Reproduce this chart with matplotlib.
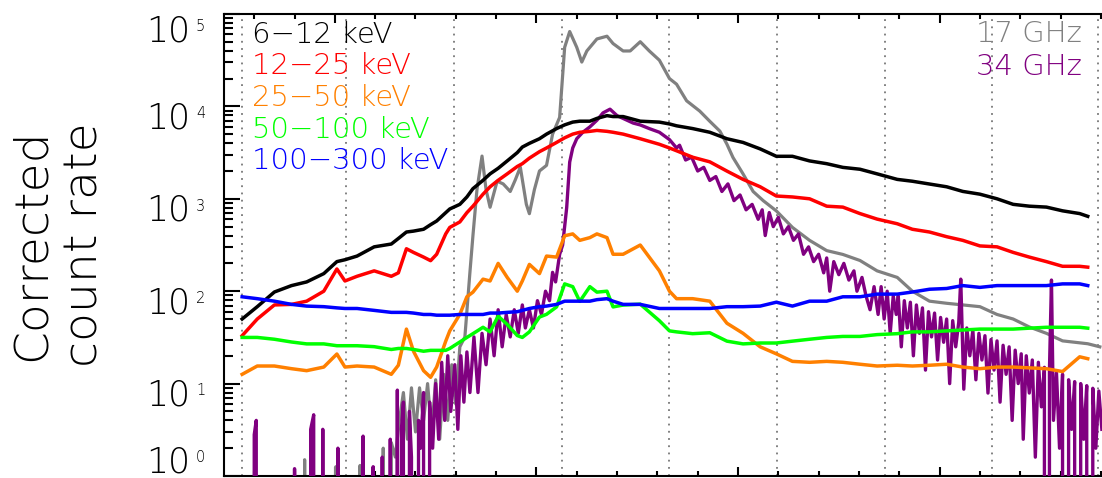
import numpy as np
import matplotlib
matplotlib.use("Agg")
import matplotlib.pyplot as plt
from matplotlib.ticker import FixedLocator, LogLocator, NullFormatter
from matplotlib.transforms import blended_transform_factory

# time in seconds (arbitrary origin), HXR bands share one time base
t_hxr = [208, 223, 240, 257, 272, 289, 302, 310, 322, 339, 356, 363, 371, 378, 388, 395,
         401, 410, 414, 424, 431, 437, 447, 454, 462, 471, 481, 486, 493, 503, 510, 520,
         528, 536, 543, 553, 560, 570, 576, 586, 603, 622, 632, 639, 655, 672, 689, 705,
         722, 738, 754, 771, 788, 804, 821, 838, 858, 873, 890, 907, 923, 940, 957, 973,
         989, 1006, 1022, 1039, 1047]

c_6_12 = [50, 68, 98, 115, 126, 155, 209, 219, 240, 302, 324, 372, 437, 447, 468, 525,
          575, 708, 776, 871, 1047, 1288, 1585, 1862, 2138, 2570, 3162, 3631, 3981, 4467, 5012, 5754,
          6310, 6761, 6918, 6918, 7413, 7943, 7762, 7762, 6918, 6761, 6457, 6166, 5754, 5248, 4467, 4074,
          3467, 2884, 2884, 2570, 2399, 2188, 2089, 1862, 1622, 1549, 1445, 1349, 1202, 1122, 1000, 871,
          832, 813, 741, 692, 646]
c_12_25 = [33, 50, 71, 72, 78, 100, 174, 129, 145, 166, 145, 158, 288, 263, 234, 214,
           251, 417, 490, 562, 708, 832, 1122, 1349, 1585, 1862, 2239, 2399, 2754, 3236, 3548, 4074,
           4571, 5012, 5248, 5370, 5495, 5370, 5248, 5012, 4467, 3890, 3548, 3311, 2818, 2512, 1995, 1622,
           1349, 1072, 1047, 1000, 832, 813, 692, 603, 537, 468, 437, 389, 355, 309, 302, 263,
           234, 209, 186, 186, 182]
c_25_50 = [12.6, 15.5, 15.5, 14.5, 13.8, 15.1, 20.9, 15.1, 15.5, 15.1, 12.6, 15.8, 38.9, 22.4, 13.8, 11.7,
           15.1, 28.8, 37.2, 56.2, 87.1, 97.7, 135, 129, 200, 141, 100, 129, 195, 155, 240, 234,
           398, 417, 355, 380, 417, 380, 251, 251, 316, 166, 100, 83, 83, 78, 45, 35,
           25, 21, 17.4, 17, 17.4, 17, 16.2, 15.5, 15.8, 15.5, 15.8, 16.2, 15.1, 14.5, 15.1, 15.1,
           14.8, 14.5, 13.5, 19.5, 18.6]
c_50_100 = [31.6, 31.6, 30.2, 28.2, 26.9, 26.9, 25.7, 25.7, 25.7, 25.1, 23.4, 24.0, 24.0, 23.4, 22.4, 22.9,
            22.9, 22.9, 24.0, 28.2, 31.6, 34.7, 40.7, 36.3, 53.7, 43.7, 33.1, 31.6, 36.3, 52.5, 56.2, 67.6,
            120, 112, 77.6, 112, 97.7, 100, 67.6, 70.8, 72.4, 47.9, 37.2, 36.3, 34.7, 35.5, 28.8, 26.9,
            27.5, 27.5, 28.8, 30.2, 31.6, 32.4, 32.4, 33.9, 34.7, 36.3, 36.3, 37.2, 38.0, 38.9, 38.9, 38.9,
            39.8, 40.7, 40.7, 40.7, 39.8]
c_100_300 = [87, 83, 78, 72, 69, 68, 66, 65, 65, 62, 59, 59, 59, 58, 56, 56,
             55, 55, 55, 56, 56, 56, 56, 58, 58, 59, 60, 62, 65, 68, 69, 72,
             78, 78, 78, 78, 81, 83, 78, 72, 72, 65, 65, 65, 65, 65, 68, 68,
             69, 76, 69, 78, 78, 87, 87, 93, 93, 98, 105, 107, 115, 110, 115, 115,
             115, 115, 120, 120, 115]

# radio fluxes (0 = below the plot floor)
t_17 = [208, 265, 270, 274, 298, 301, 304, 322, 325, 328, 346, 348, 351, 356, 360, 364,
        368, 372, 376, 380, 384, 388, 392, 396, 400, 404, 408, 412, 416, 420, 424, 429,
        434, 437, 441, 446, 450, 454, 461, 467, 474, 479, 484, 490, 493, 498, 503, 510,
        516, 523, 528, 533, 540, 545, 550, 560, 570, 576, 586, 593, 603, 612, 622, 632,
        639, 649, 662, 672, 682, 689, 695, 705, 715, 725, 738, 754, 771, 788, 804, 821,
        838, 858, 873, 890, 907, 940, 957, 973, 989, 1006, 1022, 1047, 1059]
f_17 = [0, 0, 1.5, 0, 0, 1.26, 0, 0, 1.3, 0, 0, 2.0, 0, 2.3, 1.6, 4.0,
        8, 2.5, 9, 3, 9, 4, 10, 3, 11, 2.5, 12.6, 4, 16, 6, 25, 32,
        160, 400, 1260, 2900, 1260, 810, 1550, 1450, 1200, 1600, 2200, 870, 690, 1260, 2000, 2300,
        5000, 7600, 43600, 64600, 43600, 30200, 39800, 53700, 57500, 47900, 39800, 39800, 50100, 39800, 31600, 20000,
        17400, 11500, 8900, 6900, 5400, 3900, 2800, 1860, 1200, 955, 740, 490, 355, 275, 250, 215,
        166, 141, 100, 78, 74, 68, 56, 50, 41, 35, 29, 27, 25]

t_34 = [208, 219, 220, 222, 224, 259, 260, 262, 274, 276, 279, 281, 287, 288, 290, 302,
        303, 305, 327, 328, 330, 337, 338, 340, 345, 347, 350, 354, 355, 357, 361, 362,
        363, 366, 368, 370, 374, 376, 379, 383, 385, 388, 391, 394, 397, 400, 403, 406,
        409, 412, 415, 419, 422, 425, 428, 431, 434, 438, 442, 446, 450, 454, 458, 462,
        466, 470, 474, 478, 482, 486, 489, 493, 497, 501, 505, 509, 513, 516, 519, 523,
        526, 530, 533, 536, 540, 546, 553, 560, 566, 573, 580, 588, 596, 603, 612, 622,
        632, 639, 642, 648, 654, 660, 666, 672, 678, 684, 690, 696, 702, 708, 714, 720,
        724, 727, 731, 735, 740, 745, 750, 755, 760, 765, 770, 775, 780, 785, 788, 791,
        795, 800, 805, 810, 815, 818, 823, 827, 831, 835, 839,
        842, 845, 848, 851, 854, 857, 859, 862, 865, 868, 871, 874, 877, 880, 883, 886,
        889, 892, 895, 898, 901, 904, 907, 910, 913, 916, 919, 921, 924, 927, 930, 933,
        936, 939, 942, 945, 948, 951, 954, 957, 960, 963, 966, 969, 972, 975, 978, 981,
        983, 986, 989, 992, 995, 998, 1001, 1004, 1007, 1009, 1011, 1013, 1016, 1019, 1022, 1025,
        1028, 1031, 1034, 1037, 1040, 1043, 1046, 1049, 1052, 1055, 1058, 1061]
f_34 = [0, 0, 2.8, 4.0, 0, 0, 1.2, 0, 0, 3.2, 4.6, 0, 0, 3.2, 0, 0,
        2.0, 0, 0, 2.7, 0, 0, 1.26, 0, 0, 1.6, 0, 0, 2.5, 0, 0, 8.5,
        0, 3.2, 6.3, 0, 5, 1.6, 0, 4, 2, 8, 0, 6.3, 2, 10, 2.5, 17,
        4, 20, 5, 16, 3.2, 20, 6.3, 22, 8, 32, 8, 35, 16, 50, 20, 63,
        25, 56, 32, 63, 35, 71, 40, 63, 40, 79, 56, 100, 79, 160, 126, 250,
        316, 800, 2500, 3550, 4470, 5250, 6000, 7080, 8500, 9330, 7940, 7240, 6600, 6300, 5750, 5250,
        4370, 3550, 3800, 2630, 2820, 2000, 2190, 1580, 1740, 1200, 1450, 955, 1100, 760, 870, 600,
        760, 400, 710, 500, 630, 417, 500, 355, 417, 251, 302, 209, 251, 158, 229, 100,
        209, 151, 200, 132, 166, 100, 141, 89, 63, 112, 56,
        112, 50, 100, 35, 89, 56, 89, 25, 79, 40, 76, 20, 71, 35, 66, 14,
        60, 32, 58, 18, 52, 28, 50, 10, 48, 25, 46, 135, 8.7, 40, 20, 38,
        11, 35, 18, 33, 7.9, 30, 14, 29, 6.3, 26, 12.6, 25, 4, 23, 10, 21,
        2.5, 20, 7.9, 18, 1.6, 17, 5.6, 15, 0, 14, 132, 4, 13, 2, 12.6, 0,
        11, 3.2, 10.5, 0, 10, 2.5, 9.5, 0, 8.9, 2, 8.3, 3.2]

band_labels = ["6\u221212 keV", "12\u221225 keV", "25\u221250 keV", "50\u2212100 keV", "100\u2212300 keV"]
band_colors = ["black", "#ff0000", "#ff8000", "#00ff00", "#0000ff"]
radio_labels = ["17 GHz", "34 GHz"]
radio_colors = ["#808080", "#800080"]
marker_times = [208, 311, 418, 525, 632, 739, 846, 952, 1057]
decades = [0, 1, 2, 3, 4, 5]

plt.rcParams['font.family'] = ['DejaVu Sans']
plt.rcParams['font.weight'] = 200

fig = plt.figure(figsize=(11.02, 4.78), dpi=100)
ax = fig.add_axes([224/1102, 2/478, 896/1102, 462/478])

for tm in marker_times:
    ax.axvline(tm, color='#777777', ls=(0, (1, 3)), lw=1.3, zorder=1)

ax.plot(t_17, f_17, color=radio_colors[0], lw=2.3, zorder=2)
ax.plot(t_34, f_34, color=radio_colors[1], lw=2.4, zorder=3)
for c, col in zip([c_6_12, c_12_25, c_25_50, c_50_100, c_100_300], band_colors):
    ax.plot(t_hxr, c, color=col, lw=2.5, zorder=4)

ax.set_yscale('log', nonpositive='clip')
ax.set_ylim(1, 1e5)
ax.set_xlim(190, 1079)

ax.xaxis.set_major_locator(FixedLocator([100, 300, 500, 700, 900]))
ax.xaxis.set_minor_locator(FixedLocator(np.arange(180, 1100, 40)))
ax.xaxis.set_major_formatter(NullFormatter())
ax.yaxis.set_major_locator(LogLocator(base=10, numticks=10))
ax.yaxis.set_minor_locator(LogLocator(base=10, subs=np.arange(2, 10), numticks=10))
ax.yaxis.set_minor_formatter(NullFormatter())

ax.tick_params(axis='x', which='major', direction='in', length=6.5, width=1.5, top=True)
ax.tick_params(axis='x', which='minor', direction='in', length=3.6, width=1.5, top=True)
ax.tick_params(axis='y', which='major', direction='in', length=11.5, width=1.5, right=True, labelleft=False)
ax.tick_params(axis='y', which='minor', direction='in', length=6.5, width=1.5, right=True)
for s in ax.spines.values():
    s.set_linewidth(1.5)

# y tick labels drawn as "10" plus a small raised exponent
trans = blended_transform_factory(ax.transAxes, ax.transData)
for k in decades:
    dy = 0 if k == 5 else (22 if k == 0 else 3.6)
    ax.annotate("10", xy=(-0.0379, 10.0**k), xycoords=trans, xytext=(0, dy), textcoords='offset points',
                ha='right', va='top', fontsize=25, annotation_clip=False)
    ax.annotate(str(k), xy=(-0.0313, 10.0**k), xycoords=trans, xytext=(0, dy - 3.5), textcoords='offset points',
                ha='left', va='top', fontsize=10.5, annotation_clip=False)

ys = [0.938, 0.870, 0.801, 0.732, 0.6645]
for lab, col, y in zip(band_labels, band_colors, ys):
    ax.text(0.031, y, lab, color=col, fontsize=21, transform=ax.transAxes, ha='left', va='baseline')
for lab, col, y in zip(radio_labels, radio_colors, [0.940, 0.868]):
    ax.text(0.9576, y, lab, color=col, fontsize=21, transform=ax.transAxes, ha='right', va='baseline')

fig.text(0.053, 0.4875, "Corrected\ncount rate", rotation=90, fontsize=34, ha='center', va='center',
         multialignment='center', linespacing=1.25)

fig.savefig("out.png", dpi=100)
